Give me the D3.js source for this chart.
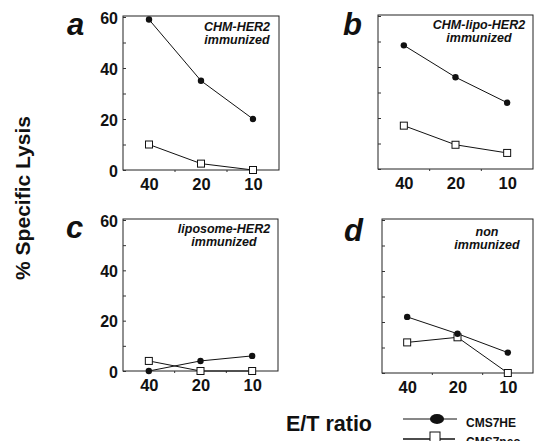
<!DOCTYPE html>
<html>
<head>
<meta charset="utf-8">
<script src="https://cdn.jsdelivr.net/npm/d3@7"></script>
<style>
  body { margin: 0; background: #fff; }
  svg { display: block; font-family: "Liberation Sans", Arial, Helvetica, sans-serif; }
</style>
</head>
<body>
<div id="chart"></div>
<script>
const width = 536;
const height = 441;

// data
const ratios = ["40", "20", "10"];
const panelLetters = ["a", "b", "c", "d"];
const panelTitles = [
  ["CHM-HER2", "immunized"],
  ["CHM-lipo-HER2", "immunized"],
  ["liposome-HER2", "immunized"],
  ["non", "immunized"]
];
const cms7heValues = [
  [59, 35, 20],
  [48.5, 36, 26],
  [0, 4, 6],
  [22, 15.4, 8]
];
const cms7neoValues = [
  [10, 2.5, 0],
  [17, 9.5, 6.3],
  [4, 0, 0],
  [12, 14, 0]
];
const yTicks = [0, 20, 40, 60];
const seriesNames = ["CMS7HE", "CMS7neo"];
const yLabel = "% Specific Lysis";
const xLabel = "E/T ratio";

// layout of the four boxes
const boxes = [
  { x0: 123, x1: 279, y0: 16, y1: 170, labels: true, lx: 67, ly: 35, tx: 237, ty: 15 },
  { x0: 378, x1: 533, y0: 15, y1: 169, labels: false, lx: 343, ly: 35, tx: 479, ty: 14 },
  { x0: 123, x1: 278, y0: 219, y1: 371, labels: true, lx: 66, ly: 238, tx: 224, ty: 14 },
  { x0: 382, x1: 533, y0: 219, y1: 373, labels: false, lx: 344, ly: 241, tx: 487, ty: 17 }
];

const svg = d3.select('#chart')
  .append('svg')
  .attr('width', width)
  .attr('height', height);

const ink = '#111';

function drawPanel(ix) {
  const b = boxes[ix];
  const x = d3.scalePoint().domain(ratios).range([b.x0, b.x1]).padding(0.5);
  const y = d3.scaleLinear().domain([0, 60]).range([b.y1, b.y0 + 1]);
  const g = svg.append('g');

  // frame
  g.append('rect')
    .attr('x', b.x0)
    .attr('y', b.y0)
    .attr('width', b.x1 - b.x0)
    .attr('height', b.y1 - b.y0)
    .style('fill', 'none')
    .style('stroke', '#222')
    .style('stroke-width', 1);

  // inward minor ticks on the left side
  const yAxis = d3.axisRight(y)
    .tickValues(d3.range(0, 61, 10))
    .tickSize(3)
    .tickFormat('');
  g.append('g')
    .attr('transform', `translate(${b.x0},0)`)
    .call(yAxis)
    .call(s => s.select('.domain').remove())
    .selectAll('line').style('stroke', '#333');

  // small ticks between the categories on the bottom edge
  const mids = d3.pairs(ratios).map(p => (x(p[0]) + x(p[1])) / 2);
  g.selectAll('line.mid')
    .data(mids)
    .enter()
    .append('line')
    .attr('class', 'mid')
    .attr('x1', d => d).attr('x2', d => d)
    .attr('y1', b.y1).attr('y2', b.y1 + 2)
    .style('stroke', '#333');

  if (b.labels) {
    const yLab = d3.axisLeft(y).tickValues(yTicks).tickSize(0).tickPadding(5);
    g.append('g')
      .attr('transform', `translate(${b.x0},1)`)
      .call(yLab)
      .call(s => s.select('.domain').remove())
      .selectAll('text')
      .style('font-size', '16px')
      .style('font-weight', 'bold')
      .style('fill', ink);
  }

  // x axis labels
  const xAxis = d3.axisBottom(x).tickSize(0).tickPadding(8);
  g.append('g')
    .attr('transform', `translate(0,${b.y1})`)
    .call(xAxis)
    .call(s => s.select('.domain').remove())
    .selectAll('text')
    .style('font-size', '16.5px')
    .style('font-weight', 'bold')
    .style('fill', ink);

  // panel letter
  svg.append('text')
    .attr('x', b.lx)
    .attr('y', b.ly)
    .style('font-size', '31px')
    .style('font-weight', 'bold')
    .style('font-style', 'italic')
    .style('fill', ink)
    .text(panelLetters[ix]);

  // panel title
  const t = g.append('text')
    .attr('text-anchor', 'middle')
    .style('font-size', '12.5px')
    .style('font-weight', 'bold')
    .style('font-style', 'italic')
    .style('fill', ink);
  panelTitles[ix].forEach((line, i) => {
    t.append('tspan')
      .attr('x', b.tx)
      .attr('y', b.y0 + b.ty + i * 13)
      .text(line);
  });

  const lineFunction = d3.line()
    .x((d, i) => x(ratios[i]))
    .y(d => y(d));

  // CMS7neo
  g.append('path')
    .attr('d', lineFunction(cms7neoValues[ix]))
    .style('fill', 'none')
    .style('stroke', ink)
    .style('stroke-width', 1);
  // CMS7HE
  g.append('path')
    .attr('d', lineFunction(cms7heValues[ix]))
    .style('fill', 'none')
    .style('stroke', ink)
    .style('stroke-width', 1);

  g.selectAll('rect.neo')
    .data(cms7neoValues[ix])
    .enter()
    .append('rect')
    .attr('class', 'neo')
    .attr('x', (d, i) => x(ratios[i]) - 3.5)
    .attr('y', d => y(d) - 3.5)
    .attr('width', 7)
    .attr('height', 7)
    .style('fill', '#fff')
    .style('stroke', ink)
    .style('stroke-width', 1);

  g.selectAll('circle.he')
    .data(cms7heValues[ix])
    .enter()
    .append('circle')
    .attr('class', 'he')
    .attr('cx', (d, i) => x(ratios[i]))
    .attr('cy', d => y(d))
    .attr('r', 3.2)
    .style('fill', ink);
}

for (let ix = 0; ix < boxes.length; ix++) {
  drawPanel(ix);
}

// y axis title
svg.append('text')
  .attr('transform', 'translate(30,198) rotate(-90)')
  .attr('text-anchor', 'middle')
  .style('font-size', '21px')
  .style('font-weight', 'bold')
  .style('fill', ink)
  .text(yLabel);

// legend
svg.append('text')
  .attr('x', 372)
  .attr('y', 431)
  .attr('text-anchor', 'end')
  .style('font-size', '21.5px')
  .style('font-weight', 'bold')
  .style('fill', ink)
  .text(xLabel);

const legend = svg.append('g');
legend.append('line')
  .attr('x1', 403).attr('x2', 457)
  .attr('y1', 419).attr('y2', 419)
  .style('stroke', ink).style('stroke-width', 1);
legend.append('ellipse')
  .attr('cx', 437).attr('cy', 419)
  .attr('rx', 7).attr('ry', 5)
  .style('fill', ink);
legend.append('text')
  .attr('x', 466).attr('y', 427)
  .style('font-size', '12px')
  .style('font-weight', 'bold')
  .style('fill', ink)
  .text(seriesNames[0]);

legend.append('line')
  .attr('x1', 403).attr('x2', 455)
  .attr('y1', 439).attr('y2', 439)
  .style('stroke', ink).style('stroke-width', 1.5);
legend.append('rect')
  .attr('x', 430).attr('y', 432)
  .attr('width', 10).attr('height', 11)
  .style('fill', '#fff')
  .style('stroke', ink)
  .style('stroke-width', 1);
legend.append('text')
  .attr('x', 466).attr('y', 446)
  .style('font-size', '12px')
  .style('font-weight', 'bold')
  .style('fill', ink)
  .text(seriesNames[1]);
</script>
</body>
</html>
